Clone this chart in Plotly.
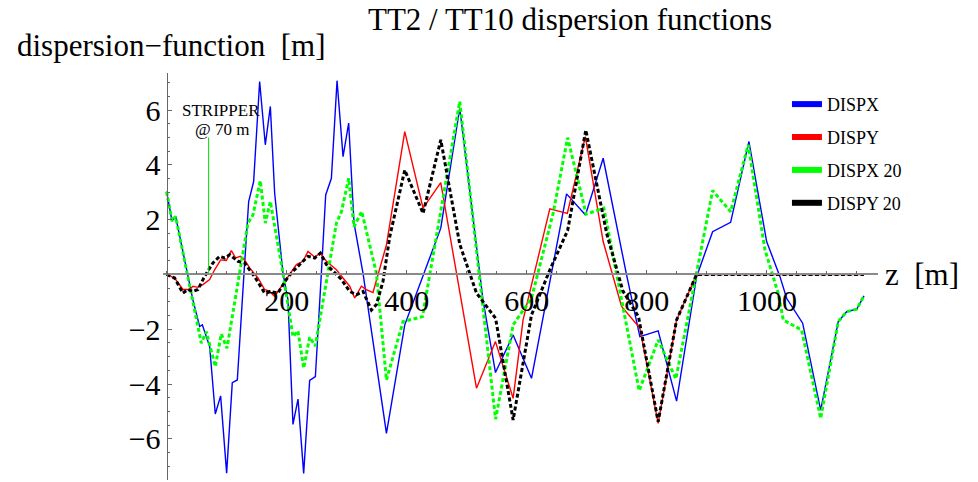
import plotly.graph_objects as go

# ---------------- data ----------------
dispx_z = [0, 9, 15, 35.5, 43.8, 55, 59.5, 71.7, 81.1, 90, 100, 109.4, 117.8, 128.9, 136.7, 145, 155, 164.4,
           172.8, 180, 193.9, 202.2, 210.5, 218.9, 228.3, 238.3, 247.8, 257.8, 265, 274.5, 283.9, 293.9, 303.3,
           312.2, 327.2, 366.2, 396.7, 456.7, 488.3, 527, 547.8, 577.2, 607.8, 666.2, 697.8, 727.2, 766, 788.3,
           818.8, 849.5, 882.8, 909.5, 939.5, 970, 999.5, 1021.7, 1032.8, 1059.5, 1089.5, 1118.8, 1132.8, 1149.5,
           1161.7]
dispx_v = [3.02, 1.95, 2.12, -0.08, -0.93, -1.9, -1.84, -2.63, -5.09, -4.43, -7.25, -3.95, -3.85, 0.04, 2.66,
           3.39, 7.04, 4.73, 6.13, 2.96, 0.04, -0.93, -5.47, -4.55, -7.26, -3.87, -3.73, 0.04, 2.9, 3.51, 7.07,
           4.3, 5.52, 1.87, 0.04, -5.8, -1.84, 1.69, 6.07, -0.93, -3.58, -2.21, -3.79, 2.94, 2.17, 4.24, 0.0,
           -2.27, -2.06, -4.62, -0.08, 1.56, 1.9, 4.85, 1.2, -0.08, -0.87, -1.78, -4.95, -1.72, -1.36, -1.27,
           -0.78]

dispy_z = [0, 13.3, 27.2, 38.3, 43.8, 52.2, 60.5, 71.7, 80, 90, 99.5, 107.8, 115, 122.8, 130, 138.3, 152.2,
           163.3, 171.7, 180, 191.2, 205, 216.2, 227.2, 235.5, 246.7, 256.2, 266.2, 282.8, 293.8, 305, 313.3,
           324.5, 332.8, 343.8, 366.2, 396.7, 427.2, 456.7, 516.2, 547.8, 577.2, 593.8, 638.3, 667.5, 697.5,
           727.2, 757.8, 788.3, 818.8, 849.5, 882.8, 1161.7]
dispy_v = [0, -0.13, -0.55, -0.55, -0.43, -0.47, -0.37, -0.19, 0.17, 0.53, 0.51, 0.87, 0.6, 0.66, 0.53, 0.24,
           -0.13, -0.55, -0.62, -0.8, -0.44, 0, 0.36, 0.48, 0.84, 0.63, 0.78, 0.48, 0.17, -0.13, -0.43, -0.86,
           -0.43, -0.55, -0.66, 1.08, 5.21, 2.42, 3.35, -4.15, -2.45, -4.52, -1.66, 2.39, 2.23, 5.03, 1.2, -1.17,
           -1.96, -5.43, -1.66, 0, 0]

dispx20_z = [0, 9, 15, 35.5, 57.8, 66.2, 70.5, 81.1, 91.1, 100.5, 135.5, 143.8, 156.1, 164.4, 172.8, 193.9,
             210.5, 218.8, 228.3, 238.3, 247.8, 268.8, 282.8, 291.2, 303.3, 312.2, 325, 349.5, 366.2, 393.8,
             426.2, 488.3, 548, 577.2, 607.8, 643.8, 668, 698.8, 728.3, 787.2, 818.8, 848.3, 880, 909.5, 939.5,
             968.8, 996.7, 1018.8, 1027.2, 1057.8, 1089.5, 1118.8, 1132.8, 1149.5, 1161.7]
dispx20_v = [3.02, 1.95, 2.12, -0.08, -2.51, -2.09, -2.45, -3.36, -2.17, -2.69, 1.87, 2.17, 3.42, 1.87, 2.66,
             0.04, -2.27, -2.06, -3.42, -2.29, -2.61, 0.04, 1.87, 2.29, 3.51, 1.74, 2.3, 0.04, -3.85, -1.72,
             -1.54, 6.31, -5.28, -1.84, -0.87, 2.23, 4.99, 2.2, 2.42, -4.24, -2.39, -3.81, -0.2, 3.06, 2.29,
             4.73, 0.9, -0.69, -1.66, -2.03, -5.25, -1.72, -1.36, -1.27, -0.78]

dispy20_z = [0, 13.3, 27.2, 35.5, 43.8, 52.2, 63.3, 77.2, 88.3, 96.7, 105, 118.8, 130, 149.5, 163.3, 171.7,
             185.5, 199.5, 210.5, 224.5, 235.5, 246.7, 256.2, 266.2, 280, 291.2, 305, 316.2, 327.2, 341.2, 349.5,
             360.5, 371.7, 396.7, 427.2, 456.7, 488.3, 516.2, 548, 577.2, 607.8, 638.3, 668, 698.3, 733, 760,
             786, 818.8, 849.5, 882.8, 1161.7]
dispy20_v = [0, -0.13, -0.68, -0.55, -0.62, -0.55, -0.07, 0.42, 0.66, 0.6, 0.72, 0.48, 0.42, -0.18, -0.68,
             -0.62, -0.68, -0.18, 0.12, 0.42, 0.66, 0.6, 0.78, 0.36, 0.06, -0.18, -0.62, -0.74, -0.62, -1.3,
             -1.1, -0.25, 1.38, 3.81, 2.23, 4.91, 1.1, -0.68, -1.6, -5.31, -1.48, 0.16, 1.6, 5.27, 1.5, -0.6,
             -1.54, -5.37, -1.66, 0, 0]

series_names = ["DISPX", "DISPY", "DISPX 20", "DISPY 20"]
stripper_z = [70, 70]
stripper_v = [0, 5]

x_tick_vals = [200, 400, 600, 800, 1000]
x_tick_text = ["200", "400", "600", "800", "1000"]
y_tick_vals = [-6, -4, -2, 2, 4, 6]
y_tick_text = ["\u22126", "\u22124", "\u22122", "2", "4", "6"]

title_text = "TT2 / TT10 dispersion functions"
y_label = "dispersion\u2212function\u00a0\u00a0[m]"
x_label = "z\u00a0\u00a0[m]"

# ---------------- figure ----------------
FONT = "Liberation Serif, Times New Roman, serif"
fig = go.Figure()

styles = [
    dict(color="#0000ff", width=1.4),
    dict(color="#ff0000", width=1.4),
    dict(color="#00ff00", width=3, dash="4px,2.5px"),
    dict(color="#000000", width=3, dash="4px,2.5px"),
]
data = [(dispx_z, dispx_v), (dispy_z, dispy_v), (dispx20_z, dispx20_v), (dispy20_z, dispy20_v)]

for (zz, vv), st, nm in zip(data, styles, series_names):
    fig.add_trace(go.Scatter(x=zz, y=vv, mode="lines", line=st, name=nm, showlegend=False,
                             hoverinfo="skip"))

fig.add_trace(go.Scatter(x=stripper_z, y=stripper_v, mode="lines", line=dict(color="#00dd00", width=1),
                         showlegend=False, hoverinfo="skip"))

# legend entries (solid swatches)
for st, nm in zip(styles, series_names):
    fig.add_trace(go.Scatter(x=[None], y=[None], mode="lines", name=nm, legendgroup=nm,
                             line=dict(color=st["color"], width=6)))

y_lo, y_hi = -7.5, 7.35
x_lo, x_hi = -6, 1185
PLOT_H = 406.9
PLOT_W = 714.6

fig.update_layout(
    width=978, height=482,
    margin=dict(l=163.4, r=100, t=73.1, b=1.9, pad=0),
    paper_bgcolor="white", plot_bgcolor="white",
    font=dict(family=FONT, color="black"),
    xaxis=dict(range=[x_lo, x_hi], anchor="free", position=(0 - y_lo) / (y_hi - y_lo),
               showgrid=False, zeroline=False, showline=True, linecolor="#8a8a8a", linewidth=1.5,
               tickmode="array", tickvals=x_tick_vals, ticktext=x_tick_text,
               ticks="inside", ticklen=4, tickcolor="#666", tickwidth=1,
               tickfont=dict(family=FONT, size=30, color="black"),
               minor=dict(tick0=0, dtick=50, ticks="inside", ticklen=2.5, tickcolor="#666")),
    yaxis=dict(range=[y_lo, y_hi], anchor="free", position=(0 - x_lo) / (x_hi - x_lo),
               showgrid=False, zeroline=False, showline=True, linecolor="#666", linewidth=1,
               tickmode="array", tickvals=y_tick_vals, ticktext=y_tick_text,
               ticks="inside", ticklen=4, tickcolor="#666", tickwidth=1,
               tickfont=dict(family=FONT, size=30, color="black"),
               minor=dict(tick0=0, dtick=0.5, ticks="inside", ticklen=2.5, tickcolor="#666")),
    legend=dict(x=(787 - 163.4) / PLOT_W, y=(480 - 86) / PLOT_H, xanchor="left", yanchor="top",
                font=dict(family=FONT, size=18), tracegroupgap=6.5, bgcolor="rgba(0,0,0,0)", itemwidth=30),
    showlegend=True,
)

fig.add_annotation(x=(366 - 163.4) / PLOT_W, xref="paper", y=(480 - 20) / PLOT_H, yref="paper",
                   yanchor="middle", xanchor="left",
                   text=title_text, showarrow=False, font=dict(family=FONT, size=31))
fig.add_annotation(x=(15 - 163.4) / PLOT_W, xref="paper", y=(480 - 46) / PLOT_H, yref="paper",
                   xanchor="left", yanchor="middle", text=y_label, showarrow=False,
                   font=dict(family=FONT, size=31))
fig.add_annotation(x=1.007, xref="paper", y=0, yref="y", xanchor="left", yanchor="middle",
                   text=x_label, showarrow=False, font=dict(family=FONT, size=31))
fig.add_annotation(x=90, y=6.0, xref="x", yref="y", text="STRIPPER", showarrow=False,
                   font=dict(family=FONT, size=17), xanchor="center", yanchor="middle")
fig.add_annotation(x=92, y=5.3, xref="x", yref="y", text="@ 70 m", showarrow=False,
                   font=dict(family=FONT, size=17), xanchor="center", yanchor="middle")

fig.write_html("out.html")
